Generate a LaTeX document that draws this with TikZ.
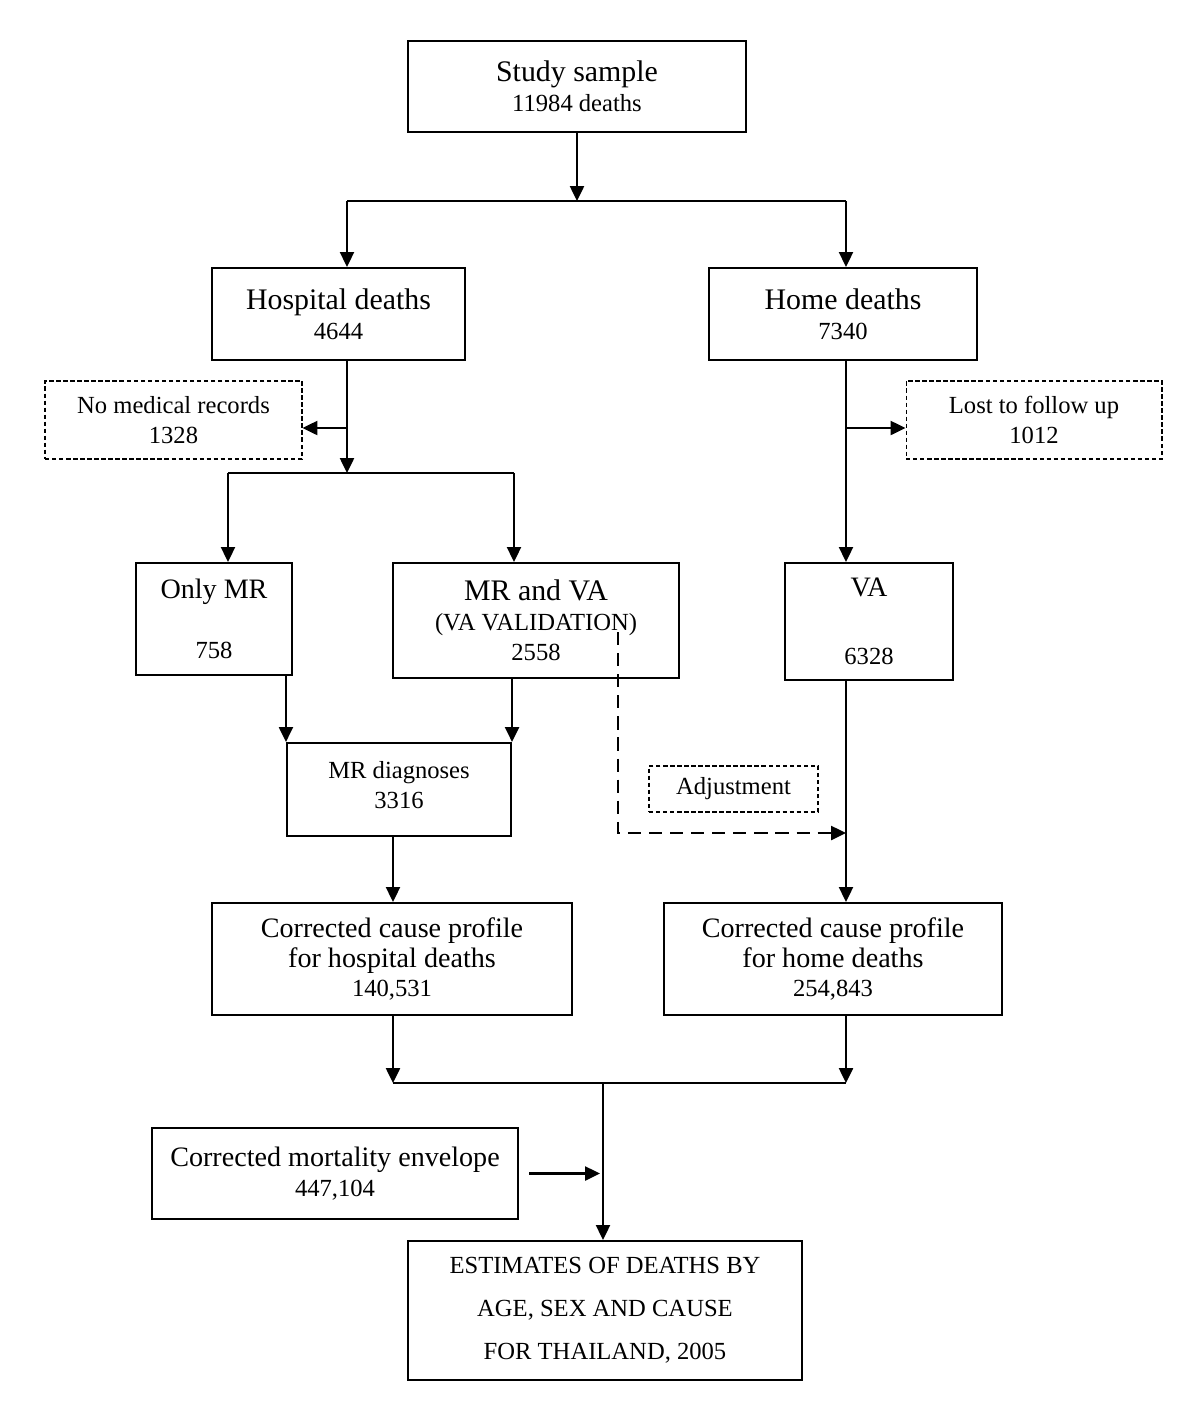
\documentclass[tikz,border=0pt]{standalone}
\usepackage{fontspec}
\setmainfont{Liberation Serif}
\usepackage{tikz}
\usetikzlibrary{arrows.meta}
\newcommand{\headfont}{\fontsize{17}{20}\selectfont}
\newcommand{\midfont}{\fontsize{16}{19}\selectfont}
\tikzstyle{process} = [rectangle, draw=black, line width=1.2pt, align=center, inner sep=0pt, font=\fontsize{14}{17}\selectfont]
\tikzstyle{dropout} = [rectangle, draw=black, line width=0.6pt, dash pattern=on 2.5pt off 1.5pt, align=center, inner sep=0pt, font=\fontsize{14}{17}\selectfont]
\tikzstyle{arrow} = [line width=1.2pt,-{Triangle[length=8.5pt,width=8pt]}]
\tikzstyle{link} = [line width=1.2pt]
\tikzstyle{adjarrow} = [arrow, dash pattern=on 7.5pt off 4.5pt]

\begin{document}
\begin{tikzpicture}[x=0.02cm, y=-0.02cm]
\useasboundingbox (0,0) rectangle (1200,1424);

%sample
\node(study)at(577,86.5)[process, minimum width=6.76cm, minimum height=1.82cm]{{\headfont Study sample}\\11984 deaths};
\node(hospital)at(338.5,314)[process, minimum width=5.06cm, minimum height=1.84cm]{{\headfont Hospital deaths}\\4644};
\node(home)at(843,314)[process, minimum width=5.36cm, minimum height=1.84cm]{{\headfont Home deaths}\\7340};

%losses
\node(nomed)at(173.5,420)[dropout, minimum width=5.14cm, minimum height=1.56cm]{No medical records\\1328};
\node(lost)at(1034,420)[dropout, minimum width=5.12cm, minimum height=1.56cm]{Lost to follow up\\1012};

%sources
\node(onlymr)at(214,619)[process, minimum width=3.12cm, minimum height=2.24cm]{{\midfont Only MR}\\[17.5pt]758};
\node(mrva)at(536,620.5)[process, minimum width=5.72cm, minimum height=2.30cm]{{\headfont MR and VA}\\(VA VALIDATION)\\2558};
\node(va)at(869,621.5)[process, minimum width=3.36cm, minimum height=2.34cm]{{\midfont VA}\\[21.5pt]6328};
\node(mrdiag)at(399,789.5)[process, minimum width=4.48cm, minimum height=1.86cm]{MR diagnoses\\3316\\[-12pt]};
\node(adjust)at(733.5,789)[dropout, minimum width=3.38cm, minimum height=0.92cm]{Adjustment};

%profiles
\node(corrhosp)at(392,959)[process, minimum width=7.2cm, minimum height=2.24cm]{{\midfont Corrected cause profile}\\{\midfont for hospital deaths}\\140,531};
\node(corrhome)at(833,959)[process, minimum width=6.76cm, minimum height=2.24cm]{{\midfont Corrected cause profile}\\{\midfont for home deaths}\\254,843};
\node(envelope)at(335,1173.5)[process, minimum width=7.32cm, minimum height=1.82cm]{{\midfont Corrected mortality envelope}\\447,104};
\node(estim)at(605,1310.5)[process, minimum width=7.88cm, minimum height=2.78cm, font=\fontsize{14}{24.5}\selectfont]{ESTIMATES OF DEATHS BY\\AGE, SEX AND CAUSE\\FOR THAILAND, 2005};

%junctions
\coordinate(split0)at(577,201);
\coordinate(hospL)at(347,201);
\coordinate(homeR)at(846,201);
\coordinate(nomedJ)at(347,428);
\coordinate(split1)at(347,473);
\coordinate(omL)at(228,473);
\coordinate(mvR)at(514,473);
\coordinate(lostJ)at(846,428);
\coordinate(adjA)at(618,632);
\coordinate(adjB)at(618,833);
\coordinate(joinL)at(393,1083);
\coordinate(joinR)at(846,1083);
\coordinate(joinM)at(603,1083);

%arrows
\draw[arrow](study.south)--(split0);
\draw[link](hospL)--(homeR);
\draw[arrow](hospL)--(hospL|-hospital.north);
\draw[arrow](homeR)--(homeR|-home.north);
\draw[arrow](hospital.south-|split1)--(split1);
\draw[arrow](nomedJ)--(nomed.east|-nomedJ);
\draw[link](omL)--(mvR);
\draw[arrow](omL)--(omL|-onlymr.north);
\draw[arrow](mvR)--(mvR|-mrva.north);
\draw[arrow](home.south-|homeR)--(homeR|-va.north);
\draw[arrow](lostJ)--(lost.west|-lostJ);
\draw[arrow](onlymr.south-|mrdiag.north west)--(mrdiag.north west);
\draw[arrow](mrva.south-|mrdiag.north east)--(mrdiag.north east);
\draw[adjarrow](adjA)--(adjB)--(homeR|-adjB);
\draw[arrow](va.south-|homeR)--(homeR|-corrhome.north);
\draw[arrow](mrdiag.south-|joinL)--(joinL|-corrhosp.north);
\draw[arrow](corrhosp.south-|joinL)--(joinL);
\draw[arrow](corrhome.south-|joinR)--(joinR);
\draw[link](joinL)--(joinR);
\draw[arrow](joinM)--(joinM|-estim.north);
\draw[arrow]([xshift=0.2cm]envelope.east)--([xshift=-0.06cm]joinM|-envelope.east);
\end{tikzpicture}
\end{document}
